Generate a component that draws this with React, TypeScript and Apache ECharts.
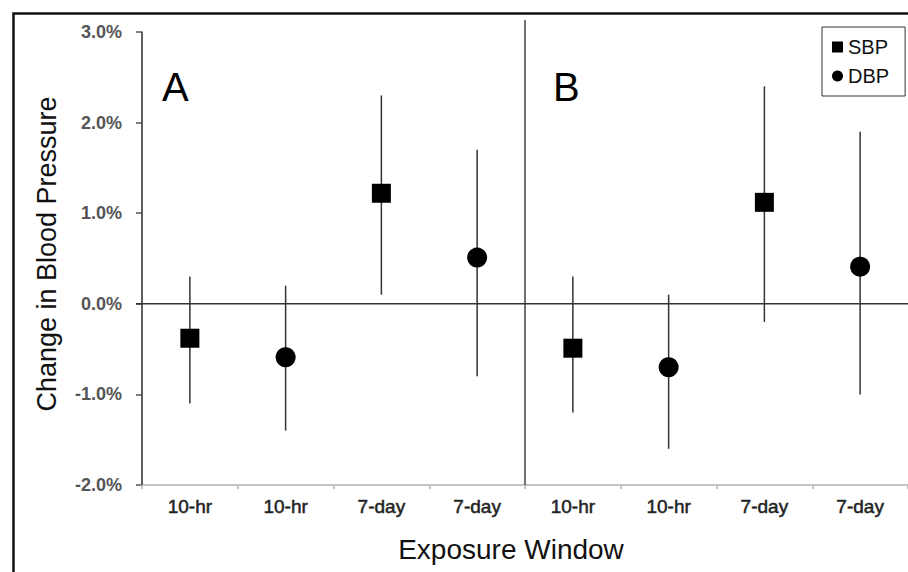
import React, { useEffect, useRef } from "react";
import * as echarts from "echarts";

const categories = ["10-hr", "10-hr", "7-day", "7-day", "10-hr", "10-hr", "7-day", "7-day"];
const yTicks = [-2, -1, 0, 1, 2, 3];

const sbpIndex = [0, 2, 4, 6];
const sbpMean = [-0.38, 1.22, -0.49, 1.12];
const sbpLow = [-1.1, 0.1, -1.2, -0.2];
const sbpHigh = [0.3, 2.3, 0.3, 2.4];

const dbpIndex = [1, 3, 5, 7];
const dbpMean = [-0.59, 0.51, -0.7, 0.41];
const dbpLow = [-1.4, -0.8, -1.6, -1.0];
const dbpHigh = [0.2, 1.7, 0.1, 1.9];

const panelLabels = ["A", "B"];
const dividerIndex = [4];

export default function App() {
  const ref = useRef<HTMLDivElement>(null);
  useEffect(() => {
    if (!ref.current) return;
    const chart = echarts.init(ref.current, null, { renderer: "svg" });
    const errData = [
      ...sbpIndex.map((x, i) => [x, sbpLow[i], sbpHigh[i]]),
      ...dbpIndex.map((x, i) => [x, dbpLow[i], dbpHigh[i]]),
    ];
    const font = "'Liberation Sans', Arial, sans-serif";
    const yMin = yTicks[0];
    const yMax = yTicks[yTicks.length - 1];
    const option: any = {
      animation: false,
      backgroundColor: "#ffffff",
      grid: { left: 142, top: 32, width: 768, bottom: 87, containLabel: false },
      xAxis: {
        type: "category",
        data: categories,
        boundaryGap: true,
        axisLine: { show: true, onZero: false, lineStyle: { color: "#c4c4c4", width: 2 } },
        axisTick: { show: true, length: 4, lineStyle: { color: "#b0b0b0", width: 1.5 } },
        axisLabel: {
          margin: 12,
          fontSize: 19,
          color: "#222",
          fontFamily: font,
          textBorderColor: "#222",
          textBorderWidth: 0.5,
        },
        splitLine: { show: false },
      },
      yAxis: {
        type: "value",
        min: yMin,
        max: yMax,
        interval: 1,
        axisLine: { show: true, onZero: false, lineStyle: { color: "#555", width: 1.5 } },
        axisTick: { show: true, inside: false, length: 6, lineStyle: { color: "#555", width: 1.5 } },
        axisLabel: {
          margin: 20,
          fontSize: 18,
          fontWeight: "bold",
          color: "#555",
          fontFamily: font,
          formatter: (v: number) => v.toFixed(1) + "%",
        },
        splitLine: { show: false },
      },
      legend: {
        orient: "vertical",
        left: 822,
        top: 27,
        borderColor: "#333",
        borderWidth: 1,
        padding: [10, 16, 10, 10],
        itemGap: 9,
        itemWidth: 11,
        itemHeight: 11,
        textStyle: { fontSize: 20, color: "#111", fontFamily: font, padding: [0, 0, 0, 0] },
        data: [
          { name: "SBP", icon: "rect" },
          { name: "DBP", icon: "circle" },
        ],
      },
      graphic: [
        {
          type: "rect",
          z: -10,
          silent: true,
          shape: { x: 13.5, y: 13.5, width: 1000, height: 1000 },
          style: { fill: "none", stroke: "#111", lineWidth: 2.5 },
        },
        {
          type: "text",
          x: 162,
          y: 67,
          style: { text: panelLabels[0], font: `40px ${font}`, fill: "#000", verticalAlign: "alphabetic" },
        },
        {
          type: "text",
          x: 553,
          y: 67,
          style: { text: panelLabels[1], font: `40px ${font}`, fill: "#000", verticalAlign: "alphabetic" },
        },
        {
          type: "text",
          x: 511,
          y: 549,
          style: { text: "Exposure Window", font: `28px ${font}`, fill: "#111", align: "center", verticalAlign: "middle" },
        },
        {
          type: "text",
          x: 47,
          y: 254,
          rotation: Math.PI / 2,
          style: { text: "Change in Blood Pressure", font: `27px ${font}`, fill: "#111", align: "center", verticalAlign: "middle" },
        },
      ],
      series: [
        {
          name: "axes",
          type: "custom",
          silent: true,
          z: 1,
          data: [[0, yMin]],
          renderItem: (params: any, api: any) => {
            const p = api.coord([0, yMin]);
            const t = api.coord([0, yMax]);
            const w = api.size([1, 0])[0];
            const x0 = p[0] - w / 2;
            return {
              type: "group",
              children: [
                {
                  type: "line",
                  shape: { x1: x0, y1: p[1], x2: x0 + w * categories.length, y2: p[1] },
                  style: { stroke: "#c4c4c4", lineWidth: 2 },
                },
                {
                  type: "line",
                  shape: { x1: x0, y1: t[1], x2: x0, y2: p[1] },
                  style: { stroke: "#555", lineWidth: 1.5 },
                },
              ],
            };
          },
        },
        {
          name: "divider",
          type: "custom",
          silent: true,
          z: 1,
          data: dividerIndex.map((x) => [x, yMin]),
          renderItem: (params: any, api: any) => {
            const p = api.coord([api.value(0), yMin]);
            const top = api.coord([api.value(0), yMax]);
            const w = api.size([1, 0])[0];
            const x = p[0] - w / 2;
            return {
              type: "line",
              shape: { x1: x, y1: top[1] - 12, x2: x, y2: p[1] },
              style: { stroke: "#444", lineWidth: 1.5 },
            };
          },
        },
        {
          name: "zero",
          type: "custom",
          silent: true,
          z: 1,
          data: [[0, 0]],
          renderItem: (params: any, api: any) => {
            const p = api.coord([0, 0]);
            const w = api.size([1, 0])[0];
            const x0 = p[0] - w / 2 - 6;
            return {
              type: "line",
              shape: { x1: x0, y1: p[1], x2: x0 + 6 + w * categories.length, y2: p[1] },
              style: { stroke: "#333", lineWidth: 1.5 },
            };
          },
        },
        {
          name: "errorbars",
          type: "custom",
          silent: true,
          z: 2,
          data: errData,
          renderItem: (params: any, api: any) => {
            const lo = api.coord([api.value(0), api.value(1)]);
            const hi = api.coord([api.value(0), api.value(2)]);
            return {
              type: "line",
              shape: { x1: lo[0], y1: lo[1], x2: hi[0], y2: hi[1] },
              style: { stroke: "#333", lineWidth: 1.5 },
            };
          },
        },
        {
          name: "SBP",
          type: "scatter",
          symbol: "rect",
          symbolSize: 19,
          z: 3,
          itemStyle: { color: "#000", opacity: 1 },
          data: sbpIndex.map((x, i) => [x, sbpMean[i]]),
        },
        {
          name: "DBP",
          type: "scatter",
          symbol: "circle",
          symbolSize: 20,
          z: 3,
          itemStyle: { color: "#000", opacity: 1 },
          data: dbpIndex.map((x, i) => [x, dbpMean[i]]),
        },
      ],
    };
    chart.setOption(option);
    return () => chart.dispose();
  }, []);
  return <div ref={ref} style={{ position: "fixed", left: 0, top: 0, width: 908, height: 572 }} />;
}
